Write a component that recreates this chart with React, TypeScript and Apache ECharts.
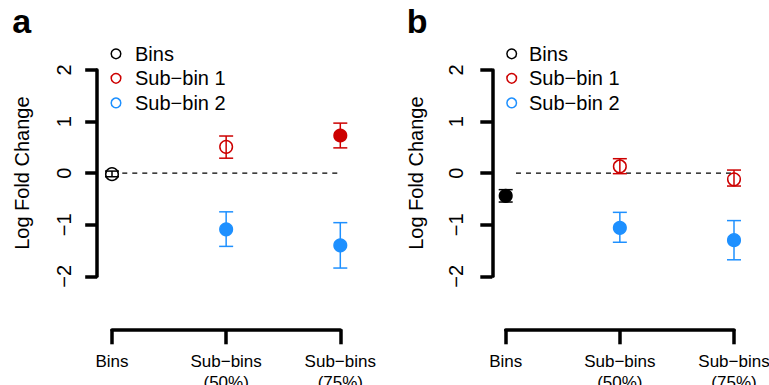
import React, { useEffect, useRef } from "react";
import * as echarts from "echarts";

// ---- data ----
const categories = ["Bins", "Sub−bins\n(50%)", "Sub−bins\n(75%)"];
const groupNames = ["Bins", "Sub−bin 1", "Sub−bin 2"];
const groupColors = ["#000000", "#CD0000", "#1E90FF"];
const panelLetters = ["a", "b"];

// [categoryIndex, mean, lower, upper, filled(1)/open(0)]
const panelABins = [[0, -0.02, -0.07, 0.04, 0]];
const panelASub1 = [
  [1, 0.51, 0.29, 0.72, 0],
  [2, 0.73, 0.49, 0.97, 1],
];
const panelASub2 = [
  [1, -1.09, -1.42, -0.75, 1],
  [2, -1.4, -1.84, -0.96, 1],
];
const panelBBins = [[0, -0.44, -0.56, -0.32, 1]];
const panelBSub1 = [
  [1, 0.13, -0.01, 0.28, 0],
  [2, -0.12, -0.25, 0.06, 0],
];
const panelBSub2 = [
  [1, -1.06, -1.34, -0.76, 1],
  [2, -1.3, -1.68, -0.92, 1],
];
// dashed reference line at zero: [x, y] end points (category units)
const refLine = [
  [0.09, 0],
  [2.1, 0],
];

const FONT = '"Liberation Sans", Arial, Helvetica, sans-serif';

function makeRender(color: string) {
  return (params: any, api: any) => {
    const x = api.value(0);
    const m = api.value(1);
    const lo = api.value(2);
    const hi = api.value(3);
    const filled = api.value(4);
    const c = api.coord([x, m]);
    const pl = api.coord([x, lo]);
    const ph = api.coord([x, hi]);
    const cap = 7;
    const r = 6.3;
    const ls = { stroke: color, lineWidth: 1.5 };
    return {
      type: "group",
      children: [
        { type: "line", shape: { x1: c[0], y1: pl[1], x2: c[0], y2: ph[1] }, style: ls },
        { type: "line", shape: { x1: c[0] - cap, y1: pl[1], x2: c[0] + cap, y2: pl[1] }, style: ls },
        { type: "line", shape: { x1: c[0] - cap, y1: ph[1], x2: c[0] + cap, y2: ph[1] }, style: ls },
        {
          type: "circle",
          shape: { cx: c[0], cy: c[1], r },
          style: { fill: filled ? color : "rgba(0,0,0,0)", stroke: color, lineWidth: 1.5 },
        },
      ],
    };
  };
}

export default function App() {
  const ref = useRef<HTMLDivElement>(null);
  useEffect(() => {
    if (!ref.current) return;
    const chart = echarts.init(ref.current, undefined, { renderer: "svg" });

    const gridLefts = [112, 505.7];
    const axisLineX = [97.2, 492.3];
    const yNameGaps = [65, 66.5];
    const yLabelMargins = [23.5, 26];
    const legendCircleX = [116, 511.7];
    const legendTextX = [135, 529];
    const legendRowY = [53.8, 78.3, 102.9];
    const letterX = [12.2, 406.7];

    const panels = [
      [panelABins, panelASub1, panelASub2],
      [panelBBins, panelBSub1, panelBSub2],
    ];

    const series: any[] = [];
    panels.forEach((groups, p) => {
      series.push({
        type: "line",
        xAxisIndex: p,
        yAxisIndex: p,
        data: refLine,
        symbol: "none",
        clip: false,
        silent: true,
        lineStyle: { color: "#000", width: 1.3, type: [5, 5] },
        z: 1,
      });
      groups.forEach((data, g) => {
        series.push({
          type: "custom",
          name: groupNames[g],
          xAxisIndex: p,
          yAxisIndex: p,
          data,
          clip: false,
          encode: { x: 0, y: [1, 2, 3] },
          itemStyle: { color: groupColors[g] },
          renderItem: makeRender(groupColors[g]),
          z: 3,
        });
      });
    });

    const legendGraphics: any[] = [];
    [0, 1].forEach((p) => {
      groupNames.forEach((n, g) => {
        legendGraphics.push({
          type: "circle",
          shape: { cx: legendCircleX[p], cy: legendRowY[g], r: 4.8 },
          style: { fill: "rgba(0,0,0,0)", stroke: groupColors[g], lineWidth: 1.5 },
        });
        legendGraphics.push({
          type: "text",
          x: legendTextX[p],
          y: legendRowY[g],
          style: {
            text: n,
            fontSize: 20,
            fontFamily: FONT,
            fill: "#000",
            verticalAlign: "middle",
            align: "left",
          },
        });
      });
    });

    const option: any = {
      animation: false,
      backgroundColor: "#fff",
      textStyle: { fontFamily: FONT, color: "#000" },
      grid: gridLefts.map((l) => ({
        left: l,
        top: 70,
        width: 228.3,
        height: 206.3,
        containLabel: false,
        outerBoundsMode: "none",
      })),
      xAxis: gridLefts.map((_, i) => ({
        type: "value",
        gridIndex: i,
        min: 0,
        max: 2,
        interval: 1,
        position: "bottom",
        offset: 53,
        axisLine: { show: true, onZero: false, lineStyle: { color: "#000", width: 3.5 } },
        axisTick: { show: true, length: 15, lineStyle: { color: "#000", width: 3.5 } },
        splitLine: { show: false },
        axisLabel: {
          formatter: (v: number) => categories[v] ?? "",
          fontSize: 17,
          lineHeight: 21,
          color: "#000",
          margin: 22,
          fontFamily: FONT,
        },
      })),
      yAxis: gridLefts.map((_, i) => ({
        type: "value",
        gridIndex: i,
        min: -2,
        max: 2,
        interval: 1,
        position: "left",
        offset: gridLefts[i] - axisLineX[i],
        name: "Log Fold Change",
        nameLocation: "middle",
        nameGap: yNameGaps[i],
        nameTextStyle: { fontSize: 20, lineHeight: 20, color: "#000", fontFamily: FONT },
        axisLine: { show: true, onZero: false, lineStyle: { color: "#000", width: 3.5 } },
        axisTick: { show: true, length: 12, lineStyle: { color: "#000", width: 3.5 } },
        splitLine: { show: false },
        axisLabel: {
          rotate: 90,
          fontSize: 20,
          lineHeight: 20,
          color: "#000",
          margin: yLabelMargins[i],
          fontFamily: FONT,
          formatter: (v: number) => (v < 0 ? "−" + Math.abs(v) : String(v)),
        },
      })),
      graphic: [
        ...panelLetters.map((t, i) => ({
          type: "text",
          x: letterX[i],
          y: 20.9,
          style: {
            text: t,
            fontSize: 34,
            fontWeight: "bold",
            fontFamily: FONT,
            fill: "#000",
            verticalAlign: "middle",
            align: "left",
          },
        })),
        ...legendGraphics,
      ],
      series,
    };
    chart.setOption(option);
    return () => chart.dispose();
  }, []);
  return (
    <div
      ref={ref}
      style={{ position: "fixed", left: 0, top: 0, width: 769, height: 385, background: "#fff" }}
    />
  );
}
